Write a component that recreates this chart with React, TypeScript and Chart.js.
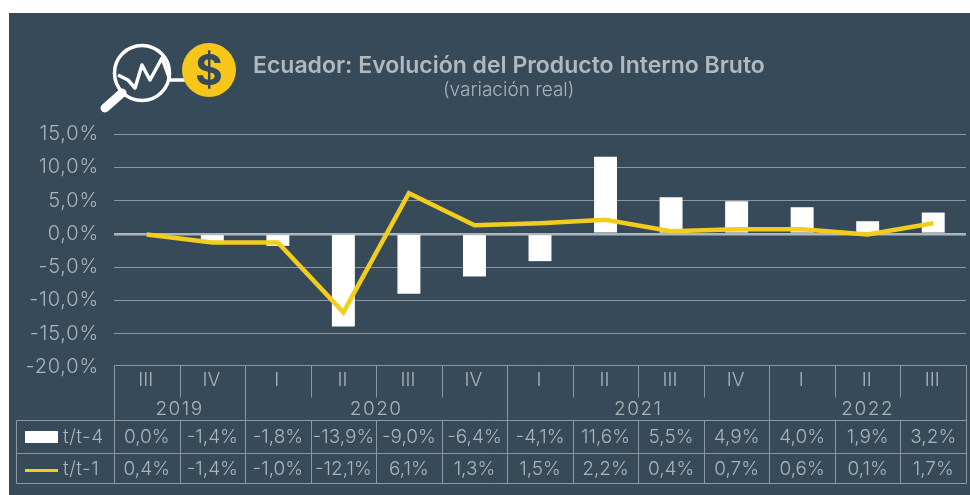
import React, { useEffect, useRef } from "react";
import { Chart, registerables } from "chart.js";

Chart.register(...registerables);

const quarters = ["III", "IV", "I", "II", "III", "IV", "I", "II", "III", "IV", "I", "II", "III"];
const years = [
  { label: "2019", span: 2 },
  { label: "2020", span: 4 },
  { label: "2021", span: 4 },
  { label: "2022", span: 3 },
];
const annualChange = [0.0, -1.4, -1.8, -13.9, -9.0, -6.4, -4.1, 11.6, 5.5, 4.9, 4.0, 1.9, 3.2];
const quarterlyLine = [-0.1, -1.3, -1.3, -11.8, 6.1, 1.3, 1.6, 2.1, 0.4, 0.7, 0.7, -0.1, 1.6];
const annualLabels = ["0,0%", "-1,4%", "-1,8%", "-13,9%", "-9,0%", "-6,4%", "-4,1%", "11,6%", "5,5%", "4,9%", "4,0%", "1,9%", "3,2%"];
const quarterlyLabels = ["0,4%", "-1,4%", "-1,0%", "-12,1%", "6,1%", "1,3%", "1,5%", "2,2%", "0,4%", "0,7%", "0,6%", "0,1%", "1,7%"];
const seriesNames = ["t/t-4", "t/t-1"];

const PANEL = "#374a59";
const GRID = "#8b98a2";
const ZERO = "#aeb6bc";
const TEXT = "#aab4bb";
const YELLOW = "#f2cd1e";
const FONT = "Inter, 'Open Sans', sans-serif";

const decor = {
  id: "decor",
  beforeDraw(chart: any) {
    const { ctx } = chart;
    ctx.save();
    ctx.fillStyle = PANEL;
    ctx.fillRect(9, 13, 961, 482);
    ctx.restore();
    ctx.letterSpacing = "0.8px";
  },
  afterDraw(chart: any) {
    const { ctx, chartArea: a, scales } = chart;
    const x = scales.x;
    const colW = (a.right - a.left) / quarters.length;
    const edge = (i: number) => a.left + i * colW;
    const y0 = a.bottom - 2;
    const y1 = y0 + 32;
    const y2 = y0 + 55;
    const y3 = y0 + 88;
    const y4 = y0 + 118;
    const left = 16;
    ctx.save();
    ctx.letterSpacing = "0px";
    ctx.strokeStyle = GRID;
    ctx.lineWidth = 1;
    const line = (x1: number, ya: number, x2: number, yb: number) => {
      ctx.beginPath();
      ctx.moveTo(Math.round(x1) + 0.5, Math.round(ya) + 0.5);
      ctx.lineTo(Math.round(x2) + 0.5, Math.round(yb) + 0.5);
      ctx.stroke();
    };
    line(a.left, y0, a.right, y0);
    line(left, y2, a.right, y2);
    line(left, y3, a.right, y3);
    line(left, y4, a.right, y4);
    line(left, y2, left, y4);
    line(a.left, y0, a.left, y4);
    line(a.right, y0, a.right, y4);
    let acc = 0;
    const yearEdges = new Set<number>();
    years.forEach((yr) => {
      acc += yr.span;
      yearEdges.add(acc);
    });
    for (let i = 1; i < quarters.length; i++) {
      line(edge(i), y0, edge(i), yearEdges.has(i) ? y4 : y1);
      line(edge(i), y2, edge(i), y4);
    }
    ctx.fillStyle = TEXT;
    ctx.textAlign = "center";
    ctx.textBaseline = "middle";
    ctx.font = `300 19px ${FONT}`;
    quarters.forEach((q, i) => {
      const cx = x.getPixelForValue(i);
      ctx.fillText(q, cx - 1, y0 + 15);
      ctx.fillText(annualLabels[i], cx, y2 + 17, colW - 3);
      ctx.fillText(quarterlyLabels[i], cx, y3 + 16, colW - 3);
    });
    ctx.letterSpacing = "1.5px";
    let start = 0;
    years.forEach((yr) => {
      const cx = (edge(start) + edge(start + yr.span)) / 2;
      ctx.fillText(yr.label, cx, y0 + 44);
      start += yr.span;
    });
    ctx.letterSpacing = "0.5px";
    ctx.textAlign = "left";
    ctx.fillText(seriesNames[0], 63, y2 + 17);
    ctx.fillText(seriesNames[1], 63, y3 + 16);
    ctx.fillStyle = "#ffffff";
    ctx.fillRect(25, y2 + 11, 33, 12);
    ctx.fillStyle = YELLOW;
    ctx.fillRect(25, y3 + 16, 33, 3);
    ctx.restore();
  },
};

export default function App() {
  const ref = useRef<HTMLCanvasElement>(null);
  useEffect(() => {
    document.body.style.margin = "0";
    document.body.style.background = "#ffffff";
    const chart = new Chart(ref.current!, {
      type: "bar",
      data: {
        labels: quarters,
        datasets: [
          {
            type: "line",
            label: seriesNames[1],
            data: quarterlyLine,
            borderColor: YELLOW,
            borderWidth: 4.5,
            pointRadius: 0,
            tension: 0,
            order: 0,
          },
          {
            type: "bar",
            label: seriesNames[0],
            data: annualChange,
            backgroundColor: "#ffffff",
            barPercentage: 0.35,
            categoryPercentage: 1,
            order: 1,
          },
        ],
      } as any,
      options: {
        animation: false,
        responsive: false,
        layout: { padding: { top: 134, bottom: 495 - 367, left: 0, right: 4 } },
        plugins: { legend: { display: false }, tooltip: { enabled: false }, title: { display: false } },
        scales: {
          x: { display: false },
          y: {
            min: -20,
            max: 15,
            afterFit(s: any) {
              s.width = 114;
            },
            border: { display: false },
            grid: {
              drawTicks: false,
              color: (c: any) => (c.tick.value === 0 ? ZERO : c.tick.value === -20 ? "transparent" : GRID),
              lineWidth: (c: any) => (c.tick.value === 0 ? 2.5 : 1),
            },
            ticks: {
              stepSize: 5,
              padding: 15,
              color: TEXT,
              font: { family: FONT, size: 20, weight: 300 },
              callback: (v: any) => `${Number(v).toFixed(1).replace(".", ",")}%`,
            },
          },
        },
      },
      plugins: [decor],
    } as any);
    return () => chart.destroy();
  }, []);
  return (
    <div style={{ position: "relative", width: 970, height: 495 }}>
      <canvas ref={ref} width={970} height={495} style={{ display: "block" }} />
      <svg width={140} height={80} viewBox="0 0 140 80" style={{ position: "absolute", left: 100, top: 38 }}>
        <circle cx={42} cy={35} r={27.5} fill="none" stroke="#fff" strokeWidth={3.5} />
        <path d="M18 37 L28 42 L35 50 L42 27 L50 42 L62 20 L70 42 L85 42" fill="none" stroke="#fff" strokeWidth={3.5} strokeLinejoin="round" />
        <path d="M22 55 L5 70" stroke="#fff" strokeWidth={9} strokeLinecap="round" />
        <circle cx={109} cy={32} r={27} fill="#f7c61a" />
        <text x={109} y={47} textAnchor="middle" fontFamily={FONT} fontWeight={700} fontSize={42} fill={PANEL}>$</text>
      </svg>
      <div style={{ position: "absolute", left: 253, top: 51, fontFamily: FONT, fontWeight: 600, fontSize: 23, color: "#b2b9be", whiteSpace: "nowrap" }}>
        Ecuador: Evolución del Producto Interno Bruto
      </div>
      <div style={{ position: "absolute", left: 443, top: 78, fontFamily: FONT, fontWeight: 300, fontSize: 19, color: TEXT, whiteSpace: "nowrap" }}>
        (variación real)
      </div>
    </div>
  );
}
